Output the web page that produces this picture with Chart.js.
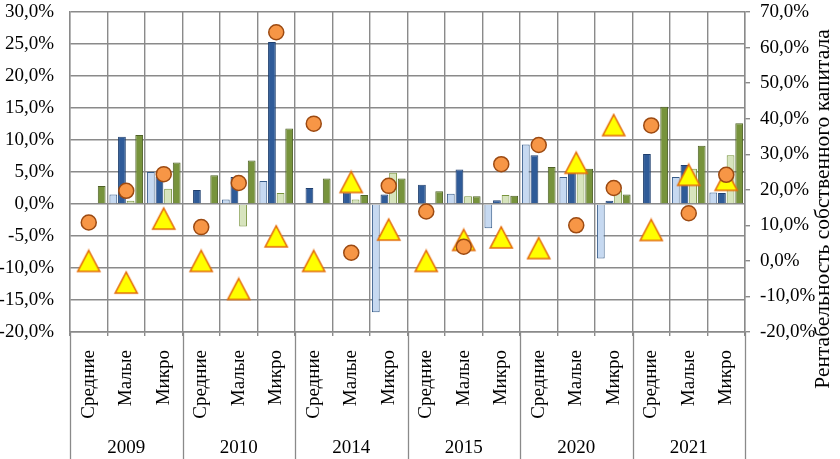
<!DOCTYPE html>
<html>
<head>
<meta charset="utf-8">
<script src="https://cdn.jsdelivr.net/npm/chart.js@4.4.1/dist/chart.umd.min.js"></script>
<style>
  html, body { margin: 0; padding: 0; background: #fff; }
  #wrap { width: 840px; height: 459px; position: relative; }
</style>
</head>
<body>
<div id="wrap"><canvas id="chart"></canvas></div>
<script>
// --- data ---
const years = ['2009', '2010', '2014', '2015', '2020', '2021'];
const sizes = ['Средние', 'Малые', 'Микро'];

// bars, left axis (%)
const barLightBlue = [null, 1.5, 5.0, null, 0.7, 3.6, null, -0.1, -16.9, null, 1.6, -3.8, 9.3, 4.2, -8.5, 0.1, 4.2, 1.8];
const barDarkBlue  = [null, 10.5, 4.3, 2.2, 4.2, 25.3, 2.5, 1.8, 1.5, 3.0, 5.4, 0.6, 7.6, 4.9, 0.5, 7.8, 6.1, 1.7];
const barLightGreen = [null, 0.5, 2.4, null, -3.5, 1.7, null, 0.7, 4.9, null, 1.2, 1.4, null, 5.8, 2.1, null, 5.5, 7.6];
const barDarkGreen = [2.8, 10.8, 6.5, 4.5, 6.8, 11.8, 4.0, 1.4, 4.0, 2.0, 1.2, 1.3, 5.8, 5.5, 1.5, 15.2, 9.1, 12.6];

// markers, right axis: рентабельность собственного капитала (%)
const roeCircles   = [10.8, 19.7, 24.4, 9.5, 21.9, 64.3, 38.6, 2.3, 21.1, 13.9, 4.0, 27.2, 32.6, 10.0, 20.5, 38.1, 13.4, 24.2];
const roeTriangles = [0, -6.1, 11.9, 0, -7.9, 6.9, 0, 22.2, 8.8, 0, 5.9, 6.6, 3.6, 27.6, 38.2, 8.7, 24.2, 22.8];

const labels = [];
years.forEach(y => sizes.forEach(s => labels.push(s)));

const FONT = '"Liberation Serif", "Times New Roman", serif';
const GRID = '#8a8a8a';
const fmt = v => v.toFixed(1).replace('.', ',') + '%';

// triangle marker (Excel style, centred on its box)
function makeTriangle() {
  const c = document.createElement('canvas');
  c.width = 26; c.height = 25;
  const g = c.getContext('2d');
  g.beginPath();
  g.moveTo(13, 2); g.lineTo(24, 23); g.lineTo(2, 23); g.closePath();
  g.fillStyle = '#FFFF00'; g.fill();
  g.lineWidth = 1.6; g.strokeStyle = '#E46C0A'; g.lineJoin = 'miter'; g.stroke();
  return c;
}

const decor = {
  id: 'decor',
  afterDraw(chart) {
    const { ctx, chartArea: a, scales: { x } } = chart;
    const step = (a.right - a.left) / labels.length;
    ctx.save();
    ctx.fillStyle = '#000';

    // rotated category labels
    ctx.font = '19px ' + FONT;
    labels.forEach((lab, i) => {
      ctx.save();
      ctx.translate(x.getPixelForValue(i), a.bottom + 18);
      ctx.rotate(-Math.PI / 2);
      ctx.textAlign = 'right';
      ctx.textBaseline = 'middle';
      ctx.fillText(lab, 0, 0);
      ctx.restore();
    });

    // year labels and separators
    ctx.strokeStyle = GRID;
    ctx.lineWidth = 1.3;
    ctx.textAlign = 'center';
    ctx.textBaseline = 'middle';
    years.forEach((yr, k) => {
      const x0 = x.getPixelForValue(k * sizes.length) - step / 2;
      const x1 = x0 + step * sizes.length;
      ctx.fillText(yr, (x0 + x1) / 2, 448);
    });
    for (let k = 0; k <= years.length; k++) {
      const px = Math.round(a.left + k * step * sizes.length) + 0.5;
      ctx.beginPath();
      ctx.moveTo(px, a.bottom);
      ctx.lineTo(px, chart.height);
      ctx.stroke();
    }

    // right axis title
    ctx.font = '21.5px ' + FONT;
    ctx.save();
    ctx.translate(823, 209);
    ctx.rotate(-Math.PI / 2);
    ctx.textAlign = 'center';
    ctx.textBaseline = 'middle';
    ctx.fillText('Рентабельность собственного капитала', 0, 0);
    ctx.restore();
    ctx.restore();
  }
};

const barBase = { type: 'bar', yAxisID: 'y', borderWidth: 1, categoryPercentage: 0.92, barPercentage: 0.9, order: 3 };

new Chart(document.getElementById('chart'), {
  data: {
    labels: labels,
    datasets: [
      { type: 'line', label: 'ROE 1', data: roeCircles, yAxisID: 'y1', showLine: false, order: 0,
        pointStyle: 'circle', pointRadius: 7.5, pointBorderWidth: 1.5,
        pointBackgroundColor: '#F79646', pointBorderColor: '#9C4A12' },
      { type: 'line', label: 'ROE 2', data: roeTriangles, yAxisID: 'y1', showLine: false, order: 1,
        pointStyle: makeTriangle(), pointRadius: 11 },
      { ...barBase, label: 'Ряд 1', data: barLightBlue, backgroundColor: '#C6D9F1', borderColor: '#385D8A' },
      { ...barBase, label: 'Ряд 2', data: barDarkBlue, backgroundColor: '#2F5B98', borderColor: '#1F3F6E' },
      { ...barBase, label: 'Ряд 3', data: barLightGreen, backgroundColor: '#D7E4BD', borderColor: '#77933C' },
      { ...barBase, label: 'Ряд 4', data: barDarkGreen, backgroundColor: '#77933C', borderColor: '#4F6228' }
    ]
  },
  options: {
    responsive: true,
    maintainAspectRatio: false,
    animation: false,
    layout: { padding: { top: 7, left: 0, right: 0, bottom: 0 } },
    plugins: { legend: { display: false }, tooltip: { enabled: false } },
    scales: {
      x: {
        offset: true,
        grid: { offset: true, color: GRID, lineWidth: 1.4, tickLength: 4 },
        border: { color: GRID, width: 1.4 },
        ticks: { display: false },
        afterFit: s => { s.height = 127; s.paddingLeft = 0; s.paddingRight = 0; }
      },
      y: {
        position: 'left',
        min: -20, max: 30,
        grid: { color: GRID, lineWidth: 1.4, drawTicks: false },
        border: { color: GRID, width: 1.4 },
        ticks: { stepSize: 5, padding: 16, color: '#000', font: { family: FONT, size: 19 }, callback: v => fmt(v) },
        afterFit: s => { s.width = 70; s.paddingTop = 0; s.paddingBottom = 0; }
      },
      y1: {
        position: 'right',
        min: -20, max: 70,
        grid: { drawOnChartArea: false, color: GRID, lineWidth: 1.4, tickLength: 5 },
        border: { color: GRID, width: 1.4 },
        ticks: { stepSize: 10, padding: 10, color: '#000', font: { family: FONT, size: 19 }, callback: v => fmt(v) },
        afterFit: s => { s.width = 95; s.paddingTop = 0; s.paddingBottom = 0; }
      }
    }
  },
  plugins: [decor]
});
</script>
</body>
</html>
